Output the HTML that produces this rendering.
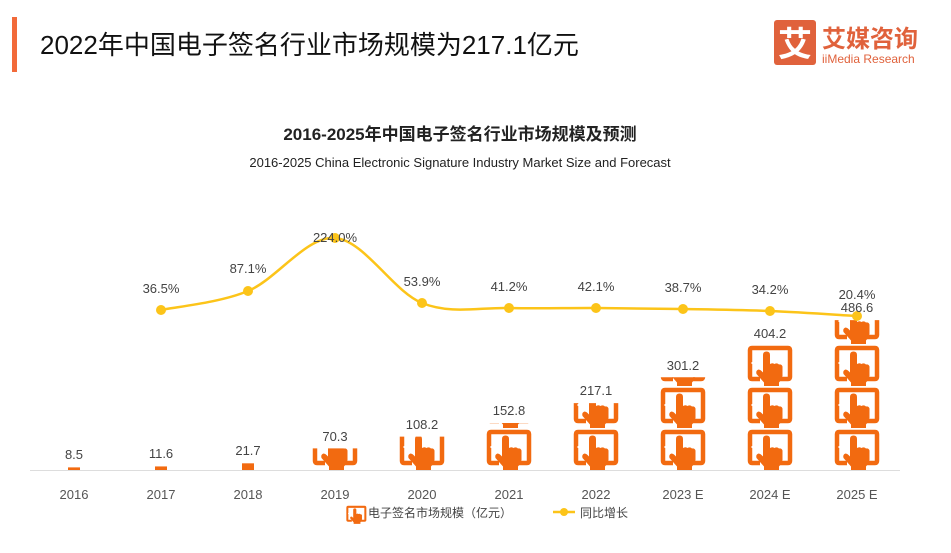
<!DOCTYPE html>
<html><head><meta charset="utf-8"><style>
body{margin:0;width:951px;height:548px;background:#fff;overflow:hidden;font-family:"Liberation Sans","Noto Sans CJK SC",sans-serif}
</style></head><body>
<svg id="s" width="951" height="548" viewBox="0 0 951 548" xmlns="http://www.w3.org/2000/svg" font-family="Liberation Sans, Noto Sans CJK SC, sans-serif">
<defs>
<g id="ic">
<path d="M13 35 H5 Q3 35 3 33 V6 Q3 4 5 4 H41 Q43 4 43 6 V33 Q43 35 41 35 H33" fill="none" stroke="#f26a10" stroke-width="4.5"/>
<rect x="4.5" y="18" width="2" height="2" fill="#fff"/>
<path d="M16 11 Q16 7.5 19.5 7.5 Q23 7.5 23 11 V20 Q25.5 18.5 27.5 20 Q30 18.5 32 20.5 Q34.5 20 35.5 22.5 V32 Q34.5 36 32 38.5 V42 H17 V38.5 L9.5 30 Q8.5 26.5 11.5 25.5 Q13.5 25.5 16 28.5 Z" fill="#f26a10"/>
</g>
</defs>
<rect x="12" y="17" width="5" height="55" fill="#f26a3a"/>
<text x="40" y="54" font-size="26" fill="#111">2022年中国电子签名行业市场规模为217.1亿元</text>
<rect x="774" y="20" width="42" height="45" rx="3" fill="#e0623c"/>
<text x="795" y="56" font-size="34" fill="#fff" text-anchor="middle" font-weight="bold">艾</text>
<text x="822" y="47" font-size="24" fill="#e0623c" font-weight="bold">艾媒咨询</text>
<text x="822" y="63" font-size="12" fill="#e0623c">iiMedia Research</text>
<text x="460" y="140" font-size="17" font-weight="bold" fill="#222" text-anchor="middle">2016-2025年中国电子签名行业市场规模及预测</text>
<text x="460" y="167" font-size="13" fill="#222" text-anchor="middle">2016-2025 China Electronic Signature Industry Market Size and Forecast</text>
<line x1="30" y1="470.5" x2="900" y2="470.5" stroke="#ddd" stroke-width="1"/>
<g id="bars"></g>
<path id="ln" fill="none" stroke="#fcc419" stroke-width="2.5"/>
<g id="dots" fill="#fcc419"></g>
<g font-size="13" fill="#444" text-anchor="middle">
<text x="74" y="459">8.5</text><text x="161" y="458">11.6</text><text x="248" y="455">21.7</text><text x="335" y="441">70.3</text><text x="422" y="429">108.2</text><text x="509" y="415">152.8</text><text x="596" y="395">217.1</text><text x="683" y="370">301.2</text><text x="770" y="338">404.2</text><text x="857" y="312">486.6</text>
<text x="161" y="293">36.5%</text><text x="248" y="273">87.1%</text><text x="335" y="242">224.0%</text><text x="422" y="286">53.9%</text><text x="509" y="291">41.2%</text><text x="596" y="291">42.1%</text><text x="683" y="292">38.7%</text><text x="770" y="294">34.2%</text><text x="857" y="299">20.4%</text>
</g>
<g font-size="13" fill="#555" text-anchor="middle">
<text x="74" y="499">2016</text><text x="161" y="499">2017</text><text x="248" y="499">2018</text><text x="335" y="499">2019</text><text x="422" y="499">2020</text><text x="509" y="499">2021</text><text x="596" y="499">2022</text><text x="683" y="499">2023 E</text><text x="770" y="499">2024 E</text><text x="857" y="499">2025 E</text>
</g>
<use href="#ic" transform="translate(346,505) scale(0.45)"/>
<text x="368" y="517" font-size="12" fill="#444">电子签名市场规模（亿元）</text>
<line x1="553" y1="512" x2="575" y2="512" stroke="#fcc419" stroke-width="2.5"/>
<circle cx="564" cy="512" r="4" fill="#fcc419"/>
<text x="580" y="517" font-size="12" fill="#444">同比增长</text>
</svg>
<script>
var NS="http://www.w3.org/2000/svg",xs=[74,161,248,335,422,509,596,683,770,857],v=[8.5,11.6,21.7,70.3,108.2,152.8,217.1,301.2,404.2,486.6];
var defs=document.querySelector("defs"),bars=document.getElementById("bars");
xs.forEach(function(x,i){var h=Math.max(v[i]*0.308,2.5);var cp=document.createElementNS(NS,"clipPath");cp.id="cb"+i;var r=document.createElementNS(NS,"rect");r.setAttribute("x",x-24);r.setAttribute("y",470-h);r.setAttribute("width",48);r.setAttribute("height",h);cp.appendChild(r);defs.appendChild(cp);
var g=document.createElementNS(NS,"g");g.setAttribute("clip-path","url(#cb"+i+")");
for(var k=0;k<4;k++){var u=document.createElementNS(NS,"use");u.setAttribute("href","#ic");u.setAttribute("transform","translate("+(x-23)+","+(428-42*k)+")");g.appendChild(u);}
if(h<8){var rr=document.createElementNS(NS,"rect");rr.setAttribute("x",x-6);rr.setAttribute("y",470-h);rr.setAttribute("width",12);rr.setAttribute("height",h);rr.setAttribute("fill","#f26a10");bars.appendChild(rr);}else bars.appendChild(g);});
var px=xs.slice(1),py=[310,291,238,303,308,308,309,311,316];
var d="M"+px[0]+" "+py[0];
for(var i=0;i<px.length-1;i++){var p0x=px[Math.max(i-1,0)],p0y=py[Math.max(i-1,0)],p3x=px[Math.min(i+2,px.length-1)],p3y=py[Math.min(i+2,px.length-1)];
var c1x=px[i]+(px[i+1]-p0x)/6,c1y=py[i]+(py[i+1]-p0y)/6,c2x=px[i+1]-(p3x-px[i])/6,c2y=py[i+1]-(p3y-py[i])/6;d+=" C"+c1x+" "+c1y+" "+c2x+" "+c2y+" "+px[i+1]+" "+py[i+1];}
document.getElementById("ln").setAttribute("d",d);
var dots=document.getElementById("dots");px.forEach(function(x,i){var c=document.createElementNS(NS,"circle");c.setAttribute("cx",x);c.setAttribute("cy",py[i]);c.setAttribute("r",5);dots.appendChild(c);});
</script>
</body></html>
